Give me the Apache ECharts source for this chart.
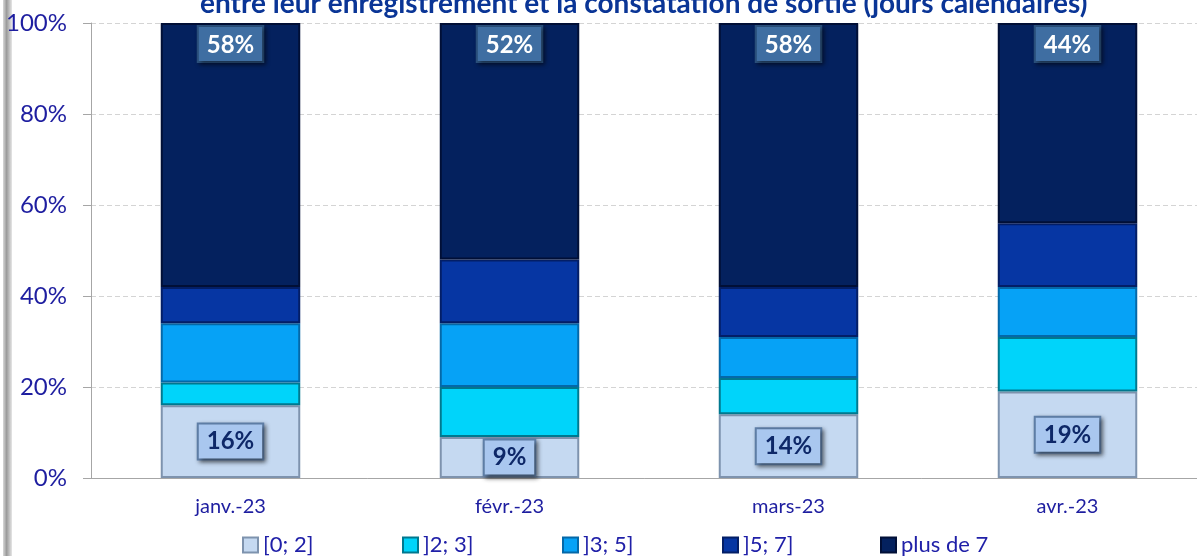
<!DOCTYPE html>
<html>
	<head>
		<meta charset="utf-8" />
		<title>Délai de sortie</title>
		<style type="text/css">
			body,
			html,
			#chart {
				width: 100%;
				height: 100%;
				overflow: hidden;
				margin: 0;
				background: #fff;
			}
		</style>
	</head>
	<body>
		<div id="chart"></div>
		<script src="https://cdn.jsdelivr.net/npm/echarts@6/dist/echarts.min.js"></script>
		<script>
			// données (en %)
			var mois = ['janv.-23', 'févr.-23', 'mars-23', 'avr.-23'];
			var tranches = ['[0; 2]', ']2; 3]', ']3; 5]', ']5; 7]', 'plus de 7'];
			var val0a2 = [16, 9, 14, 19];
			var val2a3 = [5, 11, 8, 12];
			var val3a5 = [13, 14, 9, 11];
			var val5a7 = [8, 14, 11, 14];
			var valPlus7 = [58, 52, 58, 44];
			var yTicks = [0, 20, 40, 60, 80, 100];

			var couleurs = ['#C5D9F1', '#00D4FA', '#06A2F6', '#0636A3', '#04215E'];
			var bords = ['#7E93AE', '#00788F', '#0468A8', '#031E66', '#010F36'];
			var police = 'Lato, "Open Sans", sans-serif';
			// position horizontale de chaque entrée de légende
			var legendeX = [242, 402, 562, 722, 880];

			var dom = document.getElementById('chart');
			var myChart = echarts.init(dom);

			function serie(i, data, label) {
				return {
					name: tranches[i],
					type: 'bar',
					stack: 'total',
					barWidth: '50%',
					data: data,
					itemStyle: {
						color: couleurs[i],
						borderColor: bords[i],
						borderWidth: 2
					},
					label: label || { show: false }
				};
			}

			function etiquette(pos, texte, fond, bord) {
				return {
					show: true,
					position: pos,
					distance: 4,
					formatter: '{c}%',
					color: texte,
					fontSize: 24,
					fontWeight: 'bold',
					fontFamily: police,
					backgroundColor: fond,
					borderColor: bord,
					borderWidth: 2,
					padding: [6, 8, 4, 8],
					shadowColor: 'rgba(0,0,0,0.45)',
					shadowBlur: 4,
					shadowOffsetX: 2,
					shadowOffsetY: 2
				};
			}

			var legendes = tranches.map(function (nom, i) {
				return {
					left: legendeX[i],
					top: 534,
					padding: 0,
					itemWidth: 15,
					itemHeight: 15,
					itemGap: 6,
					icon: 'rect',
					textStyle: {
						color: '#2020A8',
						fontSize: 22,
						fontFamily: police
					},
					data: [nom]
				};
			});

			var option = {
				animation: false,
				title: {
					text: 'entre leur enregistrement et la constatation de sortie (jours calendaires)',
					left: 200,
					top: -10,
					padding: 0,
					textStyle: {
						color: '#0A3596',
						fontSize: 28,
						fontWeight: 'bold',
						fontFamily: police
					}
				},
				graphic: [
					{
						type: 'rect',
						shape: { x: 3, y: 0, width: 9, height: 556 },
						style: {
							fill: new echarts.graphic.LinearGradient(0, 0, 1, 0, [
								{ offset: 0, color: '#D8D8D8' },
								{ offset: 0.4, color: '#9A9A9A' },
								{ offset: 1, color: '#E6E6E6' }
							])
						}
					}
				],
				legend: legendes,
				grid: {
					left: 91,
					top: 23,
					width: 1116,
					height: 455,
					outerBoundsMode: 'none'
				},
				xAxis: {
					type: 'category',
					data: mois,
					axisLine: { lineStyle: { color: '#A6A6A6' } },
					axisTick: { length: 6, lineStyle: { color: '#A6A6A6' } },
					axisLabel: {
						margin: 19,
						color: '#1E1EA0',
						fontSize: 20,
						fontFamily: police
					}
				},
				yAxis: {
					type: 'value',
					min: yTicks[0],
					max: yTicks[yTicks.length - 1],
					interval: 20,
					axisLine: { show: true, lineStyle: { color: '#A6A6A6' } },
					axisTick: { show: true, length: 8, lineStyle: { color: '#A6A6A6' } },
					axisLabel: {
						formatter: '{value}%',
						margin: 24,
						color: '#1E1EA0',
						fontSize: 24,
						fontFamily: police
					},
					splitLine: { lineStyle: { color: '#D4D4D4', type: [5, 3] } }
				},
				series: [
					serie(0, val0a2, etiquette('inside', '#0E2868', '#A9C7EF', '#5F7FA8')),
					serie(1, val2a3),
					serie(2, val3a5),
					serie(3, val5a7),
					serie(4, valPlus7, etiquette('insideTop', '#FFFFFF', '#3F6EA2', '#2A507C'))
				]
			};
			myChart.setOption(option);
		</script>
	</body>
</html>
